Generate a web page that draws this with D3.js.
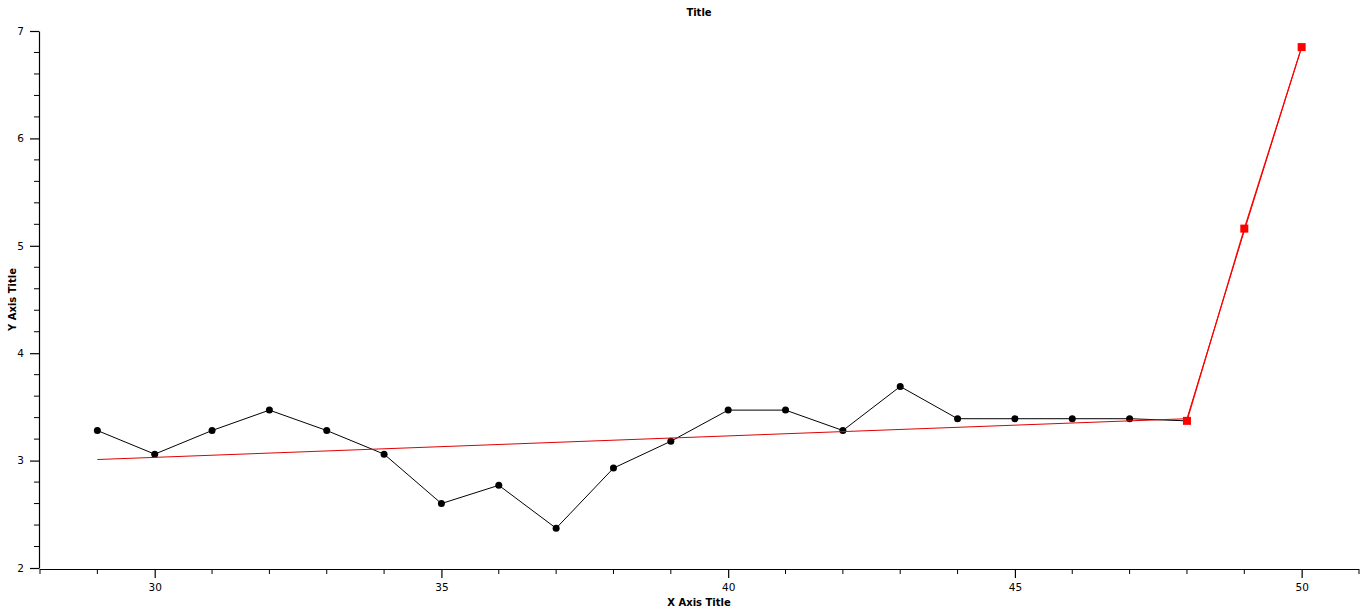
<!DOCTYPE html>
<html>
<head>
<meta charset="utf-8">
<script src="https://cdn.jsdelivr.net/npm/d3@7"></script>
<style>
  html, body { margin: 0; padding: 0; background: #fff; }
  svg { display: block; }
  text { font-family: "DejaVu Sans", Verdana, sans-serif; }
</style>
</head>
<body>
<svg id="chart" width="1366" height="613"></svg>
<script>
// ---- data ----
const obsX = [29, 30, 31, 32, 33, 34, 35, 36, 37, 38, 39, 40, 41, 42, 43, 44, 45, 46, 47, 48];
const obsY = [3.28, 3.06, 3.28, 3.47, 3.28, 3.06, 2.60, 2.77, 2.37, 2.93, 3.18, 3.47, 3.47, 3.28, 3.69, 3.39, 3.39, 3.39, 3.39, 3.37];
const trendX = [29, 48, 49, 50];
const trendY = [3.01, 3.39, 5.14, 6.85];
const fcX = [48, 49, 50];
const fcY = [3.37, 5.16, 6.85];
const xMajorTicks = [30, 35, 40, 45, 50];
const yMajorTicks = [2, 3, 4, 5, 6, 7];
const titleText = "Title";
const xTitle = "X Axis Title";
const yTitle = "Y Axis Title";

// ---- layout ----
const svg = d3.select("#chart");
const pLeft = 40, pRight = 1359, pTop = 31, pBottom = 568;

const x = d3.scaleLinear().domain([28, 51]).range([pLeft, pRight]);
const y = d3.scaleLinear().domain([2, 7]).range([pBottom, pTop]);

// minor ticks
const xMinor = d3.range(28, 52, 1).filter(v => v % 5 !== 0);
const yMinor = d3.range(2, 7.0001, 0.2).map(v => +v.toFixed(1)).filter(v => Math.abs(v - Math.round(v)) > 1e-6);

// x axis
const gx = svg.append("g").attr("transform", `translate(0,${pBottom + 1})`);
gx.call(d3.axisBottom(x).tickValues(xMajorTicks).tickFormat(d3.format("d")).tickSize(9).tickSizeOuter(0).tickPadding(6));
gx.append("g").selectAll("line").data(xMinor).join("line")
  .attr("x1", d => x(d)).attr("x2", d => x(d)).attr("y1", 0).attr("y2", 5)
  .attr("stroke", "#000");
gx.select(".domain").attr("d", `M${pLeft},0.5H${pRight}`);

// y axis
const gy = svg.append("g").attr("transform", `translate(${pLeft - 1},0)`);
gy.call(d3.axisLeft(y).tickValues(yMajorTicks).tickFormat(d3.format("d")).tickSize(9).tickSizeOuter(0).tickPadding(6));
gy.append("g").selectAll("line").data(yMinor).join("line")
  .attr("x1", 0).attr("x2", -5).attr("y1", d => y(d)).attr("y2", d => y(d))
  .attr("stroke", "#000");

svg.selectAll(".tick text").attr("font-size", 10.5).attr("fill", "#000")
  .style("font-family", "'DejaVu Sans', Verdana, sans-serif");
svg.selectAll(".domain, .tick line").attr("stroke", "#000").attr("stroke-width", 1.2);

// titles
svg.append("text").attr("x", 699).attr("y", 16).attr("text-anchor", "middle")
  .attr("font-size", 10).attr("font-weight", "bold").text(titleText);
svg.append("text").attr("x", 699).attr("y", 606).attr("text-anchor", "middle")
  .attr("font-size", 10).attr("font-weight", "bold").text(xTitle);
svg.append("text").attr("transform", `translate(16,${(pTop + pBottom) / 2}) rotate(-90)`)
  .attr("text-anchor", "middle").attr("font-size", 10).attr("font-weight", "bold").text(yTitle);

const line = d3.line().x(d => x(d[0])).y(d => y(d[1]));

// observed series
const obs = obsX.map((v, i) => [v, obsY[i]]);
svg.append("path").datum(obs).attr("d", line)
  .attr("fill", "none").attr("stroke", "#000").attr("stroke-width", 1);
svg.append("g").selectAll("circle").data(obs.slice(0, obs.length - 1)).join("circle")
  .attr("cx", d => x(d[0])).attr("cy", d => y(d[1])).attr("r", 3.5).attr("fill", "#000");

// trend series
const trend = trendX.map((v, i) => [v, trendY[i]]);
svg.append("path").datum(trend).attr("d", line)
  .attr("fill", "none").attr("stroke", "#e00000").attr("stroke-width", 1);

// forecast series
const fc = fcX.map((v, i) => [v, fcY[i]]);
svg.append("path").datum(fc).attr("d", line)
  .attr("fill", "none").attr("stroke", "#ff0000").attr("stroke-width", 1.2);
svg.append("g").selectAll("rect").data(fc).join("rect")
  .attr("x", d => x(d[0]) - 4).attr("y", d => y(d[1]) - 4)
  .attr("width", 8).attr("height", 8).attr("fill", "#ff0000");
</script>
</body>
</html>
